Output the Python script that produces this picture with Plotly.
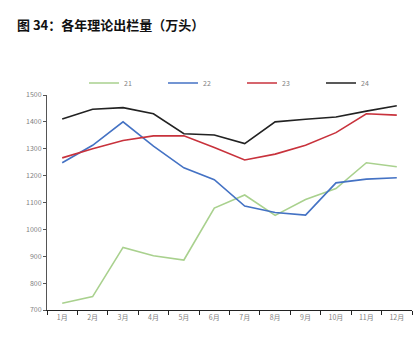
import plotly.graph_objects as go

months = ["1月", "2月", "3月", "4月", "5月", "6月", "7月", "8月", "9月", "10月", "11月", "12月"]
s21 = [725, 750, 933, 902, 886, 1079, 1128, 1052, 1111, 1152, 1248, 1233]
s22 = [1248, 1313, 1400, 1310, 1229, 1185, 1087, 1063, 1053, 1173, 1187, 1192]
s23 = [1266, 1300, 1331, 1348, 1348, 1305, 1258, 1280, 1313, 1360, 1430, 1425]
s24 = [1411, 1447, 1453, 1430, 1356, 1351, 1319, 1400, 1410, 1418, 1440, 1460]
names = ["21", "22", "23", "24"]
colors = ["#a9d18e", "#4472c4", "#c8323c", "#222222"]
yticks = [700, 800, 900, 1000, 1100, 1200, 1300, 1400, 1500]

legend_ids = ["legend", "legend2", "legend3", "legend4"]
legend_x = [84, 163, 242, 321]

fig = go.Figure()
for name, vals, c, lid in zip(names, [s21, s22, s23, s24], colors, legend_ids):
    fig.add_trace(go.Scatter(x=months, y=vals, name=name, mode="lines",
                             line=dict(color=c, width=1.6), legend=lid))

font = "Noto Sans CJK SC, Noto Sans, sans-serif"
legends = {}
for lid, lx in zip(legend_ids, legend_x):
    legends[lid] = dict(orientation="h", x=(lx - 47) / 365, y=(310 - 83) / 215,
                        xanchor="left", yanchor="middle", itemwidth=30,
                        font=dict(size=7, color="#7f7f7f"), bgcolor="rgba(0,0,0,0)")

fig.update_layout(
    width=420, height=345,
    margin=dict(l=47, r=8, t=95, b=35),
    paper_bgcolor="white", plot_bgcolor="white",
    font=dict(family=font, size=7, color="#7f7f7f"),
    showlegend=True,
    xaxis=dict(type="category", range=[-0.5, 11.5], tickson="boundaries",
               ticks="outside", ticklen=4,
               tickcolor="#222", showline=True, linecolor="#222", linewidth=1.2,
               showgrid=False, tickfont=dict(size=7, color="#7f7f7f"), zeroline=False),
    yaxis=dict(range=[700, 1500], tickvals=yticks, ticks="outside", ticklen=3,
               tickcolor="#555", showline=True, linecolor="#555", linewidth=1,
               showgrid=False, zeroline=False, tickfont=dict(size=7, color="#7f7f7f")),
    annotations=[
        dict(text="<b>图 34：各年理论出栏量（万头）</b>", xref="paper", yref="paper",
             x=(15 - 47) / 365, y=(310 - 24) / 215, xanchor="left", yanchor="middle",
             showarrow=False, font=dict(size=13, color="#111", family=font)),
    ],
    **legends,
)
fig.write_html("out.html")
